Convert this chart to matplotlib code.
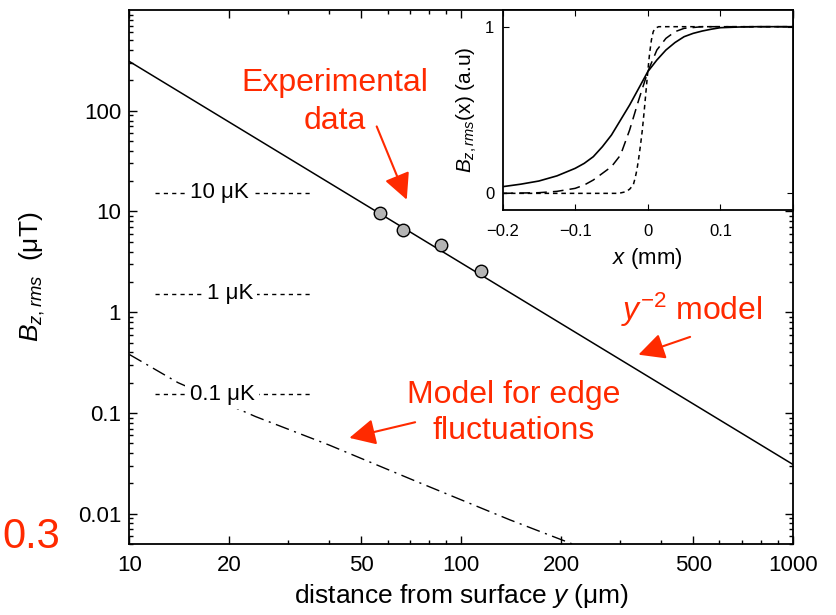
import matplotlib
matplotlib.use('Agg')
import matplotlib.pyplot as plt
from matplotlib.ticker import FixedLocator, NullFormatter, LogLocator

plt.rcParams['font.family'] = 'Liberation Sans'
plt.rcParams['mathtext.fontset'] = 'custom'
plt.rcParams['mathtext.rm'] = 'Liberation Sans'
plt.rcParams['mathtext.it'] = 'Liberation Sans:italic'

RED = '#ff2a00'

# main plot: field vs distance
model_y = [10, 1000]
model_B = [308, 0.0308]
exp_y = [57, 66.6, 86.7, 114.5]
exp_B = [9.7, 6.5, 4.7, 2.56]
edge_y = [10, 14, 24, 40, 73, 140, 220]
edge_B = [0.38, 0.2, 0.092, 0.048, 0.021, 0.0087, 0.0049]
temp_labels = ['10 μK', '1 μK', '0.1 μK']
temp_B = [15.3, 1.53, 0.153]
x_ticks = [10, 20, 50, 100, 200, 500, 1000]
x_ticklabels = ['10', '20', '50', '100', '200', '500', '1000']
y_ticks = [0.01, 0.1, 1, 10, 100]
y_ticklabels = ['0.01', '0.1', '1', '10', '100']

# inset: lateral profile
solid_x = [-0.2, -0.175, -0.15, -0.125, -0.1, -0.0875, -0.075, -0.0625, -0.05, -0.0375,
           -0.025, -0.0125, 0, 0.0125, 0.025, 0.0375, 0.05, 0.0625, 0.075, 0.0875,
           0.1, 0.125, 0.15, 0.2]
solid_v = [0.04, 0.055, 0.074, 0.105, 0.15, 0.18, 0.22, 0.28, 0.35, 0.44,
           0.53, 0.63, 0.73, 0.80, 0.86, 0.905, 0.94, 0.96, 0.974, 0.985,
           0.994, 0.998, 1.0, 1.0]
long_x = [-0.2, -0.15, -0.125, -0.1, -0.0875, -0.075, -0.0625, -0.05, -0.0375, -0.025,
          -0.0125, 0, 0.0125, 0.025, 0.0375, 0.05, 0.075, 0.2]
long_v = [0.0, 0.004, 0.012, 0.03, 0.05, 0.08, 0.12, 0.16, 0.23, 0.38,
          0.56, 0.73, 0.86, 0.93, 0.97, 0.99, 1.0, 1.0]
short_x = [-0.2, -0.04, -0.03, -0.025, -0.02, -0.0175, -0.015, -0.0125, -0.01, -0.0075,
           -0.005, -0.0025, 0, 0.0025, 0.005, 0.0075, 0.01, 0.015, 0.2]
short_v = [0, 0, 0.01, 0.025, 0.05, 0.09, 0.14, 0.21, 0.29, 0.38,
           0.49, 0.61, 0.73, 0.84, 0.92, 0.97, 0.99, 1.0, 1.0]
inset_xticks = [-0.2, -0.1, 0, 0.1, 0.2]
inset_xticklabels = ['\u22120.2', '\u22120.1', '0', '0.1', '']

fig = plt.figure(figsize=(8.36, 6.15), dpi=100)
ax = fig.add_axes([0.1549, 0.1154, 0.7937, 0.8683])
ax.set_xscale('log')
ax.set_yscale('log')
ax.set_xlim(10, 1000)
ax.set_ylim(0.005, 1000)

ax.plot(model_y, model_B, color='k', lw=1.1)
ax.plot(edge_y, edge_B, color='k', lw=1, dashes=(10, 4, 1.5, 4))
ax.plot(exp_y, exp_B, 'o', ms=9, mfc='#b4b4b4', mec='k', mew=1, zorder=3)

for B, lab, xl in zip(temp_B, temp_labels, [18.6, 20.1, 19.0]):
    ax.plot([11.9, 35], [B, B], color='k', lw=1, dashes=(3, 3))
    ax.text(xl, B, lab, ha='center', va='center', fontsize=16,
            bbox=dict(fc='white', ec='none', pad=3), zorder=4)

ax.set_xticks(x_ticks)
ax.set_xticklabels(x_ticklabels)
ax.xaxis.set_minor_locator(FixedLocator([k * 10**d for d in (1, 2) for k in range(2, 10) if k not in (2, 5)]))
ax.xaxis.set_minor_formatter(NullFormatter())
ax.set_yticks(y_ticks)
ax.set_yticklabels(y_ticklabels)
ax.yaxis.set_minor_locator(LogLocator(subs=range(2, 10), numticks=20))
ax.yaxis.set_minor_formatter(NullFormatter())
ax.tick_params(which='both', direction='in', top=True, right=True, labelsize=16, width=1)
ax.tick_params(which='major', length=6, pad=6)
ax.tick_params(axis='x', which='major', pad=8)
ax.tick_params(which='minor', length=3)
for s in ax.spines.values():
    s.set_linewidth(1.3)

ax.set_xlabel('distance from surface $y$ (μm)', fontsize=19, labelpad=4)
ax.set_ylabel('$B_{z,rms}$  (μT)', fontsize=19, labelpad=22)

# annotations
fig.text(0.4001, 0.8341, 'Experimental\ndata', color=RED, fontsize=23, ha='center', va='center',
         linespacing=1.35)
fig.text(0.8278, 0.4959, '$y^{-2}$ model', color=RED, fontsize=23, ha='center', va='center')
fig.text(0.6148, 0.3285, 'Model for edge\nfluctuations', color=RED, fontsize=23, ha='center', va='center',
         linespacing=1.3)
fig.text(2 / 836, 1 - 537 / 615, '0.3', color=RED, fontsize=30, ha='left', va='center')

arrow = dict(arrowstyle='-|>,head_length=0.8,head_width=0.4', color=RED, lw=1.5,
             mutation_scale=20, shrinkA=0, shrinkB=0)
ax.annotate('', xy=(68.5, 13.1), xytext=(55.6, 69.9), arrowprops=arrow)
ax.annotate('', xy=(342, 0.379), xytext=(489.5, 0.569), arrowprops=arrow)
ax.annotate('', xy=(46, 0.0566), xytext=(72.6, 0.0809), arrowprops=arrow)

# inset
ins = fig.add_axes([0.6011, 0.6585, 0.3475, 0.3252])
ins.set_facecolor('white')
ins.plot(solid_x, solid_v, color='k', lw=1.2)
ins.plot(long_x, long_v, color='k', lw=1.1, dashes=(7, 4))
ins.plot(short_x, short_v, color='k', lw=1.1, dashes=(3, 2.5))
ins.set_xlim(-0.2, 0.2)
ins.set_ylim(-0.1, 1.1)
ins.set_xticks(inset_xticks)
ins.set_xticklabels(inset_xticklabels)
ins.set_yticks([0, 1])
ins.set_yticklabels(['0', '1'])
ins.tick_params(direction='in', top=True, right=True, labelsize=12, length=4, pad=6)
ins.tick_params(axis='x', pad=10)
for s in ins.spines.values():
    s.set_linewidth(1.3)
ins.set_xlabel('$x$ (mm)', fontsize=16, labelpad=5)
ins.set_ylabel('$B_{z,rms}$(x) (a.u)', fontsize=15, labelpad=4)

fig.savefig('out.png', dpi=100)
